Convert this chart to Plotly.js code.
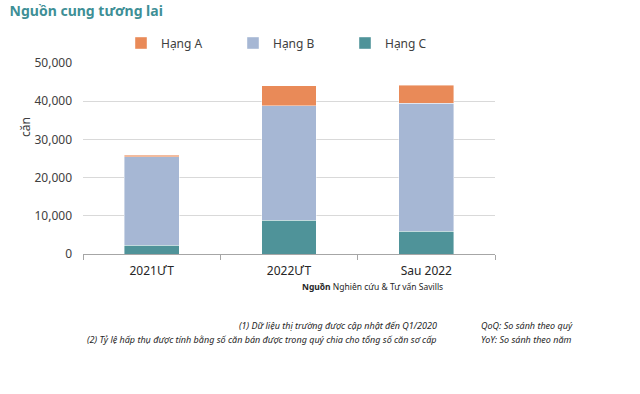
<!DOCTYPE html>
<html>
<head>
<meta charset="utf-8">
<script src="https://cdn.plot.ly/plotly-3.0.1.min.js"></script>
<style>html,body{margin:0;padding:0;background:#fff;}#chart{width:640px;height:394px;}</style>
</head>
<body>
<div id="chart"></div>
<script>
const categories = ["2021ƯT", "2022ƯT", "Sau 2022"];
const hangC = [2300, 8800, 6000];
const hangB = [23100, 30000, 33400];
const hangA = [400, 5300, 4800];
const yTicks = [0, 10000, 20000, 30000, 40000, 50000];

const FONT = "Noto Sans, Open Sans, sans-serif";
const L = 83, R = 145, T = 63, B = 140;
const PW = 640 - L - R, PH = 394 - T - B;
const px = x => (x - L) / PW;
const py = y => (394 - B - y) / PH;

const edge = {color: "rgba(255,255,255,0.7)", width: 0.6};
const traces = [
  {type: "bar", name: "Hạng C", x: categories, y: hangC, marker: {color: "#4F9399", line: edge}, legendrank: 3, hoverinfo: "none"},
  {type: "bar", name: "Hạng B", x: categories, y: hangB, marker: {color: "#A6B7D4", line: edge}, legendrank: 2, hoverinfo: "none"},
  {type: "bar", name: "Hạng A", x: categories, y: hangA, marker: {color: "#E98A58", line: edge}, legendrank: 1, hoverinfo: "none"}
];

const layout = {
  width: 640, height: 394,
  margin: {l: L, r: R, t: T, b: B},
  paper_bgcolor: "#fff", plot_bgcolor: "#fff",
  barmode: "stack", bargap: 0.6,
  font: {family: FONT, size: 12, color: "#404040"},
  title: {text: "<b>Nguồn cung tương lai</b>", x: 0.015, xanchor: "left", xref: "container", y: 0.972, yanchor: "middle", yref: "container", font: {family: FONT, size: 14, color: "#3E8F96"}},
  showlegend: true,
  legend: {orientation: "h", x: px(121), xanchor: "left", y: py(43), yanchor: "middle", traceorder: "normal", entrywidth: 67, entrywidthmode: "pixels", font: {family: FONT, size: 12, color: "#404040"}, bgcolor: "rgba(0,0,0,0)"},
  xaxis: {type: "category", showline: true, linecolor: "#A6A6A6", linewidth: 1, ticks: "outside", tickson: "boundaries", ticklen: 5, tickcolor: "#A6A6A6", ticklabelstandoff: 6, showgrid: false, tickfont: {family: FONT, size: 12, color: "#262626"}, fixedrange: true},
  yaxis: {range: [0, 50000], tickvals: yTicks, tickformat: ",d", showgrid: true, gridcolor: "#D9D9D9", gridwidth: 1, zeroline: false, showline: false, ticks: "", ticklabelstandoff: 10, tickfont: {family: FONT, size: 12, color: "#404040"}, fixedrange: true},
  annotations: [
    {xref: "paper", yref: "paper", x: px(25), y: py(127), xanchor: "center", yanchor: "middle", textangle: -90, showarrow: false, text: "căn", font: {family: FONT, size: 12, color: "#404040"}},
    {xref: "paper", yref: "paper", x: px(300), y: py(286), xanchor: "left", yanchor: "middle", showarrow: false, text: "<b>Nguồn</b> Nghiên cứu & Tư vấn Savills", font: {family: FONT, size: 8.5, color: "#262626"}},
    {xref: "paper", yref: "paper", x: px(439), y: py(325), xanchor: "right", yanchor: "middle", showarrow: false, text: "<i>(1) Dữ liệu thị trường được cập nhật đến Q1/2020</i>", font: {family: FONT, size: 9, color: "#262626"}},
    {xref: "paper", yref: "paper", x: px(439), y: py(339), xanchor: "right", yanchor: "middle", showarrow: false, text: "<i>(2) Tỷ lệ hấp thụ được tính bằng số căn bán được trong quý chia cho tổng số căn sơ cấp</i>", font: {family: FONT, size: 9, color: "#262626"}},
    {xref: "paper", yref: "paper", x: px(479), y: py(325), xanchor: "left", yanchor: "middle", showarrow: false, text: "<i>QoQ: So sánh theo quý</i>", font: {family: FONT, size: 9, color: "#262626"}},
    {xref: "paper", yref: "paper", x: px(479), y: py(339), xanchor: "left", yanchor: "middle", showarrow: false, text: "<i>YoY: So sánh theo năm</i>", font: {family: FONT, size: 9, color: "#262626"}}
  ]
};

Plotly.newPlot("chart", traces, layout, {displayModeBar: false, staticPlot: true});
</script>
</body>
</html>
